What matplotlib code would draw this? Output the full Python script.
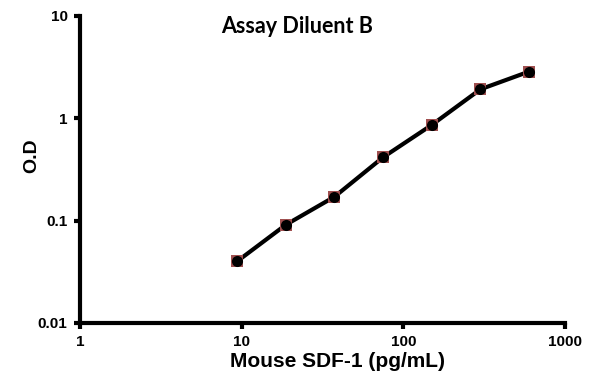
import numpy as np
import matplotlib
matplotlib.use("Agg")
import matplotlib.pyplot as plt

# standard curve data
conc = [9.375, 18.75, 37.5, 75, 150, 300, 600]  # pg/mL
od = [0.040, 0.091, 0.171, 0.416, 0.861, 1.92, 2.86]

xticks = [1, 10, 100, 1000]
xlabels = ["1", "10", "100", "1000"]
yticks = [0.01, 0.1, 1, 10]
ylabels = ["0.01", "0.1", "1", "10"]

plt.rcParams['font.family'] = ['Liberation Sans', 'DejaVu Sans']

fig = plt.figure(figsize=(5.95, 3.84), dpi=100)
ax = fig.add_axes([0.1345, 0.159, 0.815, 0.7995])

ax.plot(conc, od, '-', color='black', linewidth=3, zorder=2)
ax.plot(conc, od, 's', color='#a05050', markersize=8, markeredgewidth=0, zorder=3)
ax.plot(conc, od, 'o', color='black', markersize=8, markeredgewidth=0, zorder=4)

ax.set_xscale('log')
ax.set_yscale('log')
ax.set_xlim(1, 1000)
ax.set_ylim(0.01, 10)
ax.set_xticks(xticks)
ax.set_xticklabels(xlabels)
ax.set_yticks(yticks)
ax.set_yticklabels(ylabels)
ax.minorticks_off()

for s in ['top', 'right']:
    ax.spines[s].set_visible(False)
for s in ['left', 'bottom']:
    ax.spines[s].set_linewidth(3)

ax.tick_params(direction='out', length=4, width=3, labelsize=11, pad=5)
for lab in ax.get_xticklabels() + ax.get_yticklabels():
    lab.set_fontweight('bold')

ax.set_xlabel("Mouse SDF-1 (pg/mL)", fontsize=15, fontweight='bold', labelpad=0)
ax.xaxis.set_label_coords(0.53, -0.095)
ax.set_ylabel("O.D", fontsize=14, fontweight='bold')
ax.yaxis.set_label_coords(-0.082, 0.545)

fig.text(0.499, 0.93, "Assay Diluent B", fontsize=15.5, fontweight='bold',
         family=['Lato', 'DejaVu Sans'], ha='center', va='center')

fig.savefig("out.png", dpi=100)
